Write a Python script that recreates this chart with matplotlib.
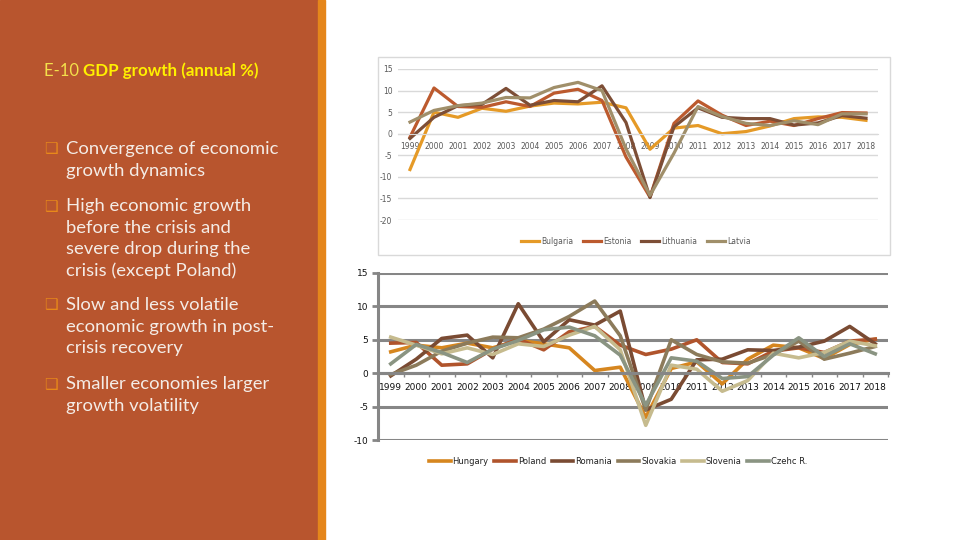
import matplotlib
matplotlib.use("Agg")
import matplotlib.pyplot as plt
from matplotlib.patches import Rectangle

plt.rcParams["axes.unicode_minus"] = False

years = [str(y) for y in range(1999, 2019)]

# Top chart series
top_names = ["Bulgaria", "Estonia", "Lithuania", "Latvia"]
bulgaria = [-8.3, 5.0, 3.8, 5.9, 5.2, 6.4, 7.1, 6.9, 7.3, 6.0, -3.6, 1.3, 1.9, 0.0, 0.5, 1.8, 3.5, 3.9, 3.8, 3.1]
estonia = [-0.8, 10.6, 6.3, 6.1, 7.4, 6.3, 9.4, 10.3, 7.7, -5.4, -14.7, 2.4, 7.6, 4.3, 1.9, 2.9, 1.9, 3.5, 4.9, 4.8]
lithuania = [-1.1, 3.8, 6.5, 6.8, 10.5, 6.6, 7.7, 7.4, 11.1, 2.6, -14.8, 1.6, 6.0, 3.8, 3.5, 3.5, 2.0, 2.5, 4.2, 3.6]
latvia = [2.7, 5.4, 6.5, 7.1, 8.4, 8.3, 10.7, 11.9, 10.0, -3.5, -14.3, -4.5, 6.3, 4.0, 2.4, 1.9, 3.0, 2.1, 4.6, 4.6]
top_colors = ["#E59A27", "#BC5A2E", "#7D4E36", "#A08F6A"]

# Bottom chart series
bot_names = ["Hungary", "Poland", "Romania", "Slovakia", "Slovenia", "Czehc R."]
hungary = [3.2, 4.2, 3.8, 4.5, 3.8, 4.9, 4.4, 3.8, 0.4, 0.9, -6.6, 0.7, 1.7, -1.6, 2.1, 4.2, 3.8, 2.2, 4.3, 5.1]
poland = [4.5, 4.6, 1.2, 1.4, 3.6, 5.1, 3.5, 6.2, 7.0, 4.2, 2.8, 3.6, 5.0, 1.6, 1.4, 3.3, 3.8, 3.1, 4.8, 5.1]
romania = [-0.4, 2.1, 5.2, 5.7, 2.3, 10.4, 4.7, 8.0, 7.2, 9.3, -5.5, -3.9, 2.0, 2.1, 3.5, 3.4, 3.9, 4.8, 7.0, 4.4]
slovakia = [-0.2, 1.2, 3.3, 4.5, 5.4, 5.3, 6.6, 8.5, 10.8, 5.6, -5.5, 5.0, 2.8, 1.7, 1.5, 2.8, 4.8, 2.1, 3.0, 4.0]
slovenia = [5.4, 4.2, 2.9, 3.8, 2.8, 4.4, 4.0, 5.7, 7.0, 3.5, -7.8, 1.2, 0.6, -2.7, -1.1, 3.0, 2.3, 3.1, 4.8, 4.1]
czech = [1.4, 4.3, 3.1, 1.6, 3.6, 4.9, 6.5, 6.9, 5.6, 2.7, -4.8, 2.3, 1.8, -0.8, -0.5, 2.7, 5.3, 2.5, 4.4, 2.9]
bot_colors = ["#D6861F", "#B0542C", "#7A4B33", "#8C7B5B", "#C6BB8E", "#8A9482"]

title_light = "E-10 "
title_bold = "GDP growth (annual %)"
bullets = [
    ["Convergence of economic", "growth dynamics"],
    ["High economic growth", "before the crisis and", "severe drop during the", "crisis (except Poland)"],
    ["Slow and less volatile", "economic growth in post-", "crisis recovery"],
    ["Smaller economies larger", "growth volatility"],
]

W, H = 960, 540
fig = plt.figure(figsize=(9.6, 5.4), dpi=100)
fig.patch.set_facecolor("white")


def rect(x0, y0, x1, y1):
    return [x0 / W, 1 - y1 / H, (x1 - x0) / W, (y1 - y0) / H]


def fx(x):
    return x / W


def fy(y):
    return 1 - y / H


# Left panel
fig.patches.append(Rectangle((0, 0), fx(318), 1, transform=fig.transFigure, color="#B8552E", zorder=0))
fig.patches.append(Rectangle((fx(318), 0), fx(7), 1, transform=fig.transFigure, color="#E5861B", zorder=0))

fnt = ["Lato", "DejaVu Sans"]
fig.text(fx(44), fy(71), title_light, color="#F3E04B", fontsize=12, family=fnt, va="center", ha="left")
fig.text(fx(83), fy(71), title_bold, color="#FFF000", fontsize=12.2, family=fnt, fontweight="bold",
         va="center", ha="left")

starts = [149, 206, 305, 384]
for lines, y0 in zip(bullets, starts):
    fig.text(fx(51), fy(y0), "\u2751", color="#E8891A", fontsize=11, family=["DejaVu Sans"],
             va="center", ha="center")
    for k, ln in enumerate(lines):
        fig.text(fx(66), fy(y0 + k * 21.7), ln, color="#F4ECE6", fontsize=13.3, family=fnt,
                 va="center", ha="left")

x = list(range(len(years)))

# Top chart
fig.patches.append(Rectangle((fx(378), fy(255)), fx(512), (255 - 57) / H, transform=fig.transFigure,
                             fill=False, edgecolor="#D9D9D9", lw=1, zorder=0))
ax1 = fig.add_axes(rect(398, 69, 878, 220))
ax1.set_xlim(-0.5, 19.5)
ax1.set_ylim(-20, 15)
ax1.set_yticks(range(-20, 16, 5))
ax1.grid(axis="y", color="#D9D9D9", lw=1)
ax1.set_axisbelow(True)
for s in ["top", "right", "left"]:
    ax1.spines[s].set_visible(False)
ax1.spines["bottom"].set_position(("data", 0))
ax1.spines["bottom"].set_color("#D9D9D9")
ax1.set_xticks(x)
ax1.set_xticklabels(years)
ax1.tick_params(axis="x", length=0, pad=6, labelsize=5.5, labelcolor="#595959")
ax1.tick_params(axis="y", length=0, pad=4, labelsize=5.5, labelcolor="#595959")
for vals, c, n in zip([bulgaria, estonia, lithuania, latvia], top_colors, top_names):
    ax1.plot(x, vals, color=c, lw=2.3, label=n, solid_joinstyle="round")
ax1.legend(loc="center", bbox_to_anchor=(fx(636), fy(241)), bbox_transform=fig.transFigure,
           ncol=4, frameon=False, fontsize=5.5, handlelength=2.4, columnspacing=1.2,
           labelcolor="#595959", handletextpad=0.3)

# Bottom chart
ax2 = fig.add_axes(rect(378, 273, 888, 440))
ax2.set_xlim(-0.5, 19.5)
ax2.set_ylim(-10, 15)
ax2.set_yticks(range(-10, 16, 5))
ax2.grid(axis="y", color="#868686", lw=2.2)
ax2.set_axisbelow(True)
for s in ["top", "right"]:
    ax2.spines[s].set_visible(False)
ax2.spines["left"].set_color("#868686")
ax2.spines["left"].set_linewidth(2.2)
ax2.spines["bottom"].set_position(("data", 0))
ax2.spines["bottom"].set_color("#868686")
ax2.spines["bottom"].set_linewidth(2.2)
ax2.set_xticks([i + 0.5 for i in x])
ax2.set_xticklabels([])
ax2.set_xticks(x, minor=True)
ax2.set_xticklabels(years, minor=True)
ax2.tick_params(axis="x", which="major", length=3, color="#868686", width=1)
ax2.tick_params(axis="x", which="minor", length=0, pad=7, labelsize=6.5, labelcolor="#111111")
ax2.tick_params(axis="y", length=4, width=2, color="#868686", pad=3, labelsize=6.5, labelcolor="#111111")
for vals, c, n in zip([hungary, poland, romania, slovakia, slovenia, czech], bot_colors, bot_names):
    ax2.plot(x, vals, color=c, lw=2.6, label=n, solid_joinstyle="round")
ax2.legend(loc="center", bbox_to_anchor=(fx(618), fy(461)), bbox_transform=fig.transFigure,
           ncol=6, frameon=False, fontsize=6, handlelength=2.6, columnspacing=0.7,
           labelcolor="#222222", handletextpad=0.2)

fig.savefig("out.png", dpi=100)
